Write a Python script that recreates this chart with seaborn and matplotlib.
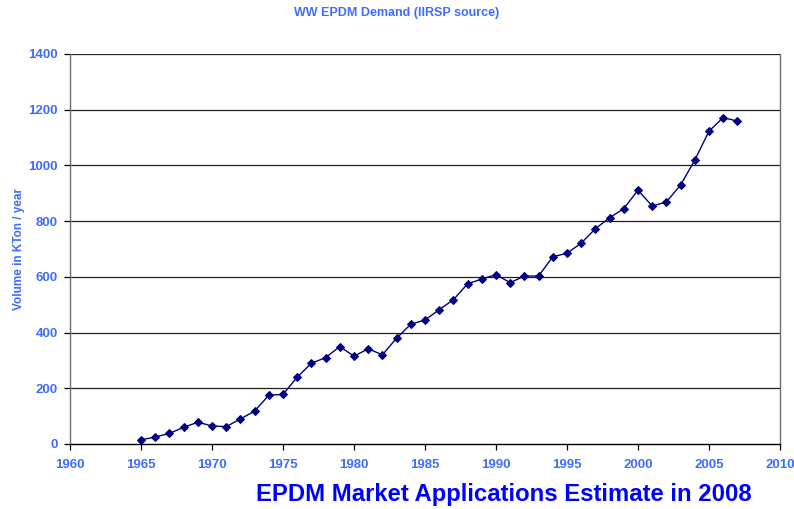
import matplotlib
matplotlib.use("Agg")
import matplotlib.pyplot as plt
import seaborn as sns
import pandas as pd

years = [1965, 1966, 1967, 1968, 1969, 1970, 1971, 1972, 1973, 1974, 1975, 1976, 1977, 1978,
         1979, 1980, 1981, 1982, 1983, 1984, 1985, 1986, 1987, 1988, 1989, 1990, 1991, 1992,
         1993, 1994, 1995, 1996, 1997, 1998, 1999, 2000, 2001, 2002, 2003, 2004, 2005, 2006, 2007]
demand = [15, 25, 38, 60, 78, 65, 62, 90, 118, 175, 178, 240, 290, 310,
          350, 315, 342, 320, 380, 430, 445, 482, 518, 575, 592, 608, 579, 603,
          603, 672, 685, 721, 773, 812, 845, 911, 854, 869, 930, 1019, 1123, 1172, 1159]
x_ticks = [1960, 1965, 1970, 1975, 1980, 1985, 1990, 1995, 2000, 2005, 2010]
y_ticks = [0, 200, 400, 600, 800, 1000, 1200, 1400]

df = pd.DataFrame({"year": years, "demand": demand})

sns.set_theme(style="white")
plt.rcParams["font.family"] = ["Liberation Sans", "DejaVu Sans"]

fig = plt.figure(figsize=(7.94, 5.09), dpi=100)
ax = fig.add_axes([70 / 794, 1 - 444 / 509, 710 / 794, 390 / 509])

sns.lineplot(data=df, x="year", y="demand", ax=ax, color="#000080", linewidth=1.0,
             marker="D", markersize=4.5, markeredgecolor="#000080", markerfacecolor="#000080")

ax.set_xlim(1960, 2010)
ax.set_ylim(0, 1400)
ax.set_xticks(x_ticks)
ax.set_yticks(y_ticks)
ax.set_xticklabels([str(t) for t in x_ticks])
ax.set_yticklabels([str(t) for t in y_ticks])

for y in y_ticks[1:]:
    ax.axhline(y, color="#202020", linewidth=0.9, zorder=0)

ax.spines["top"].set_visible(False)
for side in ["left", "bottom", "right"]:
    ax.spines[side].set_color("#707070")
    ax.spines[side].set_linewidth(1.0)
ax.spines["bottom"].set_color("black")

ax.tick_params(axis="both", direction="out", length=4, width=0.9, color="black",
               labelsize=9.5, labelcolor="#3f6cff", bottom=True, left=True)
ax.tick_params(axis="x", pad=7)
ax.tick_params(axis="y", pad=5)
for lbl in ax.get_xticklabels() + ax.get_yticklabels():
    lbl.set_fontweight("bold")

ax.set_xlabel("")
ax.set_ylabel("Volume in KTon / year", fontsize=8.5, fontweight="bold", color="#3f6cff", labelpad=2)

fig.text(0.5, 1 - 13 / 509, "WW EPDM Demand (IIRSP source)", ha="center", va="center",
         fontsize=9, fontweight="bold", color="#3f6cff")
fig.text(504 / 794, 1 - 494 / 509, "EPDM Market Applications Estimate in 2008", ha="center",
         va="center", fontsize=17.2, fontweight="bold", color="#0000ff")

fig.savefig("out.png", dpi=100, facecolor="white")
